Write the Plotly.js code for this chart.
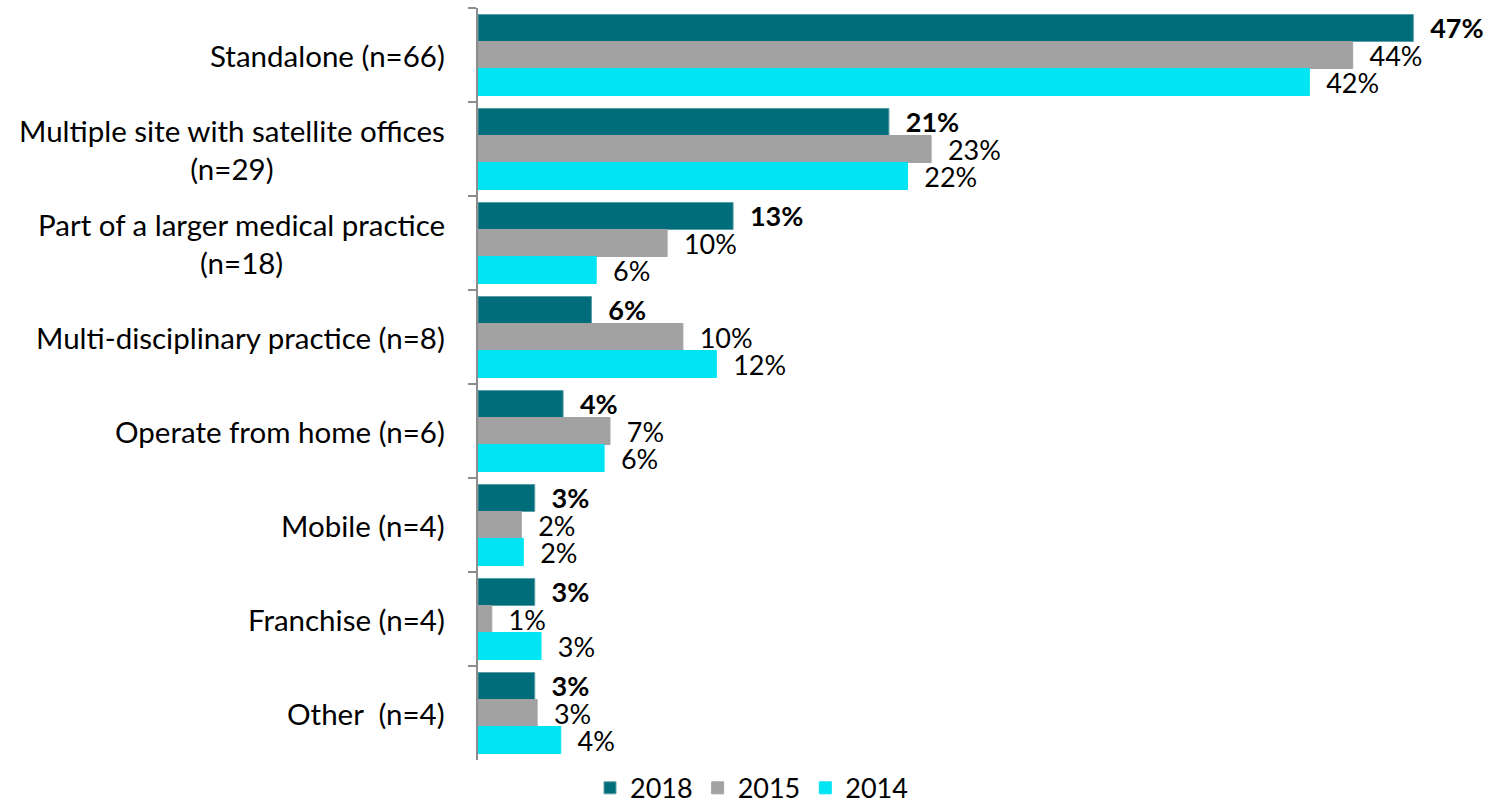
<!DOCTYPE html>
<html>
<head>
<meta charset="utf-8">
<script src="https://cdn.plot.ly/plotly-3.0.1.min.js"></script>
<style>html,body{margin:0;padding:0;background:#fff;}#chart{width:1503px;height:806px;}</style>
</head>
<body>
<div id="chart"></div>
<script>
var categories = [
  "Standalone (n=66)",
  "Multiple site with satellite offices<br>(n=29)",
  "Part of a larger medical practice<br>(n=18)",
  "Multi-disciplinary practice (n=8)",
  "Operate from home (n=6)",
  "Mobile (n=4)",
  "Franchise (n=4)",
  "Other  (n=4)"
];
var seriesNames = ["2018", "2015", "2014"];
var values2018 = [47.48, 20.86, 12.95, 5.76, 4.32, 2.88, 2.88, 2.88];
var values2015 = [44.4, 23.0, 9.6, 10.4, 6.7, 2.2, 0.7, 3.0];
var values2014 = [42.2, 21.8, 6.0, 12.1, 6.4, 2.3, 3.2, 4.2];

var FONT = "Lato, 'Open Sans', sans-serif";
var FS = 27;
var FS_CAT = 29.5;
var catIds = categories.map(function(c, i){ return "c" + i; });

function barTrace(name, vals, color, lineColor, bold) {
  return {
    type: "bar",
    orientation: "h",
    name: name,
    y: catIds,
    x: vals,
    marker: {color: color, line: {color: lineColor, width: 1}},
    texttemplate: bold ? "\u00a0\u00a0<b>%{x:.0f}%</b>" : "\u00a0\u00a0%{x:.0f}%",
    textposition: "outside",
    textfont: {family: FONT, size: FS, color: "#000"},
    cliponaxis: false,
    constraintext: "none",
    hoverinfo: "skip"
  };
}

var data = [
  barTrace(seriesNames[0], values2018, "#006d7a", "#5c9ea6", true),
  barTrace(seriesNames[1], values2015, "#a2a2a2", "#a2a2a2", false),
  barTrace(seriesNames[2], values2014, "#00e4f4", "#00e4f4", false)
];

var annotations = categories.map(function(c, i){
  return {
    xref: "paper", yref: "y", x: -0.0315, y: catIds[i],
    xanchor: "right", yanchor: "middle", align: "center",
    text: c, showarrow: false,
    font: {family: FONT, size: FS_CAT, color: "#000"}
  };
});

var layout = {
  width: 1503, height: 806,
  margin: {l: 478, r: 40, t: 8, b: 46},
  paper_bgcolor: "#fff", plot_bgcolor: "#fff",
  barmode: "group", bargap: 0.138, bargroupgap: 0,
  showlegend: true,
  legend: {
    orientation: "h", xref: "container", yref: "container",
    x: 0.5, xanchor: "center", y: 0.022, yanchor: "middle",
    font: {family: FONT, size: FS, color: "#000"},
    itemwidth: 30, traceorder: "normal"
  },
  xaxis: {
    range: [0, 50], showgrid: false, zeroline: false, showline: false,
    showticklabels: false, ticks: ""
  },
  yaxis: {
    type: "category", autorange: "reversed",
    showgrid: false, zeroline: false,
    showline: true, linecolor: "#8c8c8c", linewidth: 2,
    ticks: "outside", ticklen: 8, tickcolor: "#8c8c8c", tickwidth: 2,
    tickson: "boundaries", showticklabels: false
  },
  annotations: annotations
};

Plotly.newPlot("chart", data, layout, {displayModeBar: false, staticPlot: true});
</script>
</body>
</html>
